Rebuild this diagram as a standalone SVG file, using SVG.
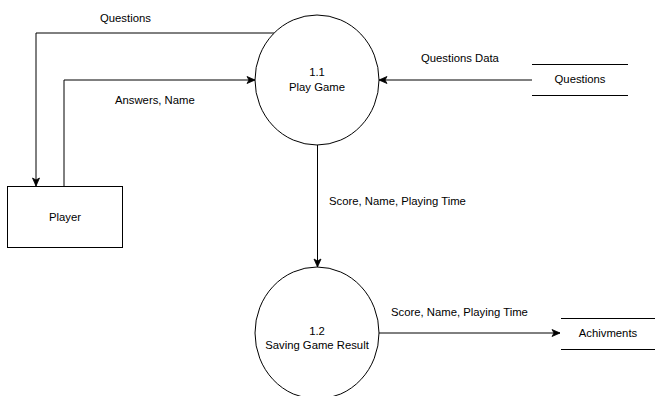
<svg xmlns="http://www.w3.org/2000/svg" width="655" height="396" viewBox="0 0 655 396">
<style>
.shape{fill:#fff;stroke:#000;stroke-width:1}
.store{fill:none;stroke:#000;stroke-width:1}
.edge{fill:none;stroke:#000;stroke-width:1}
text{font-family:"Liberation Sans",Arial,sans-serif;font-size:11.3px;fill:#000}
.c{text-anchor:middle}
</style>
<defs>
<marker id="arr" markerUnits="userSpaceOnUse" markerWidth="10" markerHeight="10" viewBox="0 0 10 10" refX="9" refY="5" orient="auto">
<path d="M1,1.5 L9,5 L1,8.5 L3,5 Z" fill="#000" stroke="#000" stroke-width="0.8"/>
</marker>
</defs>
<rect width="655" height="396" fill="#fff"/>
<g id="connectors">
<polyline class="edge" points="274,33 36,33 36,186" marker-end="url(#arr)"/>
<polyline class="edge" points="64,186 64,80 255,80" marker-end="url(#arr)"/>
<line class="edge" x1="532" y1="80" x2="379" y2="80" marker-end="url(#arr)"/>
<line class="edge" x1="317.5" y1="145" x2="317.5" y2="267" marker-end="url(#arr)"/>
<line class="edge" x1="379" y1="333" x2="560" y2="333" marker-end="url(#arr)"/>
<text x="100" y="22">Questions</text>
<text x="115" y="104">Answers, Name</text>
<text x="421" y="62">Questions Data</text>
<text x="329" y="205">Score, Name, Playing Time</text>
<text x="391" y="316">Score, Name, Playing Time</text>
</g>
<g id="play-game">
<ellipse class="shape" cx="317" cy="80" rx="62" ry="65"/>
<text class="c" x="317" y="76">1.1</text>
<text class="c" x="317" y="91">Play Game</text>
</g>
<g id="saving-game-result">
<ellipse class="shape" cx="317" cy="333" rx="62" ry="66"/>
<text class="c" x="317" y="335">1.2</text>
<text class="c" x="317" y="349">Saving Game Result</text>
</g>
<g id="player">
<rect class="shape" x="7.5" y="186.5" width="115" height="61"/>
<text class="c" x="65" y="221">Player</text>
</g>
<g id="questions-store">
<line class="store" x1="532" y1="64.5" x2="628" y2="64.5"/>
<line class="store" x1="532" y1="95.5" x2="628" y2="95.5"/>
<text class="c" x="580" y="83">Questions</text>
</g>
<g id="achivments-store">
<line class="store" x1="561" y1="318.5" x2="657" y2="318.5"/>
<line class="store" x1="561" y1="349.5" x2="657" y2="349.5"/>
<text class="c" x="608" y="337">Achivments</text>
</g>
</svg>
